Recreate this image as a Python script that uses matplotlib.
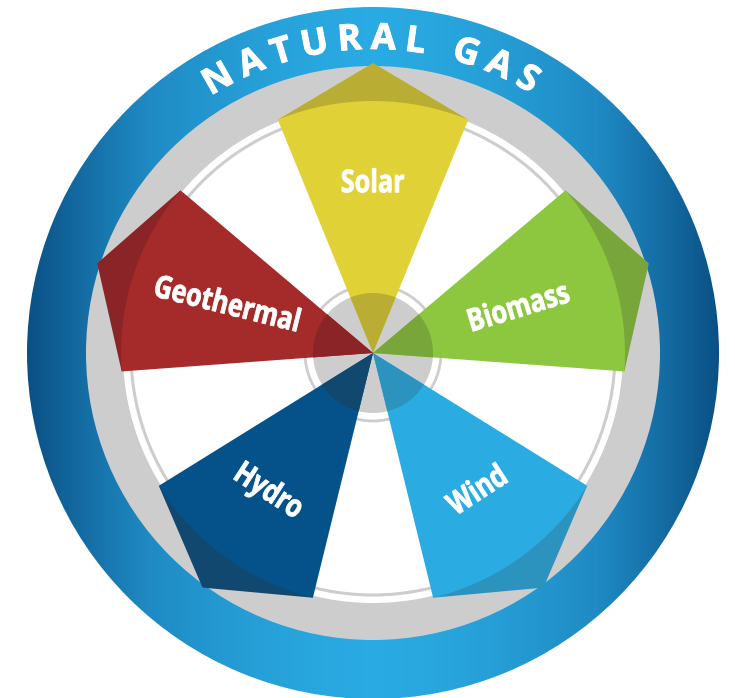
import numpy as np
import matplotlib
matplotlib.use("Agg")
import matplotlib.pyplot as plt
from matplotlib.patches import Wedge, Circle, Polygon, PathPatch
from matplotlib.colors import LinearSegmentedColormap
from matplotlib.textpath import TextPath
from matplotlib.transforms import Affine2D
from matplotlib import font_manager
import matplotlib.patheffects as pe

# chart content
title = "NATURAL GAS"
categories = ["Solar", "Biomass", "Wind", "Hydro", "Geothermal"]
shares = [1, 1, 1, 1, 1]
colors = ["#E0D136", "#8DC63F", "#2AACE2", "#045289", "#A52A2A"]
dark_colors = ["#B9AE33", "#78A63A", "#2C93BF", "#10486F", "#8A2427"]
label_rot = [0, 17, 33, -33, -14]
label_radius = [172, 153, 171, 171, 154]
label_shift = [0, 0, 1, -1, -1]

W, H = 735, 698
cx, cy = 373, 345

fig = plt.figure(figsize=(W / 100, H / 100), dpi=100)
ax = fig.add_axes([0, 0, 1, 1])

# outer blue ring with horizontal gradient
xs = np.linspace(cx - 350, cx + 350, 700)
t = np.clip(np.abs(xs - cx) / 346, 0, 1) ** 1.6
cmap = LinearSegmentedColormap.from_list("ring", ["#2AAAE2", "#1F8AC3", "#0A5085"])
im = ax.imshow(np.tile(t, (10, 1)), cmap=cmap, vmin=0, vmax=1, aspect="auto",
               extent=[cx - 350, cx + 350, cy - 350, cy + 350], zorder=1)
ring = Wedge((cx, cy), 346, 0, 360, width=60, transform=ax.transData)
im.set_clip_path(ring)

ax.add_patch(Circle((cx, cy), 287, fc="#CDCDCD", ec="none", zorder=2))
ax.add_patch(Circle((cx, cy), 250, fc="white", ec="none", zorder=3))
ax.add_patch(Circle((cx, cy), 242, fill=False, ec="#CDCDCD", lw=2.2, zorder=4))
ax.add_patch(Circle((cx, cy), 68, fill=False, ec="#CDCDCD", lw=2.0, zorder=4))
ax.add_patch(Circle((cx, cy), 60, fc="#CDCDCD", ec="none", zorder=4))

# condensed bold labels, built from text outlines
label_fp = font_manager.FontProperties(family="Open Sans", weight="bold")


def condensed_label(x, y, s, rot, size=31.5, squeeze=0.8):
    tp = TextPath((0, 0), s, size=size, prop=label_fp)
    bb = tp.get_extents()
    tr = (Affine2D().translate(-(bb.x0 + bb.x1) / 2, -size * 0.714 / 2)
          .scale(squeeze, 1).rotate_deg(rot).translate(x, y))
    ax.add_patch(PathPatch(tr.transform_path(tp), fc="white", ec="white", lw=0.6, zorder=8))


# wedges
step = 360 / sum(shares)
half = 22.2
r_in, r_tip = 252, 290
for i, name in enumerate(categories):
    c = 90 - step * sum(shares[:i])
    a1, a2 = np.radians(c + half), np.radians(c - half)
    tip = (cx + r_tip * np.cos(np.radians(c)), cy + r_tip * np.sin(np.radians(c)))
    p1 = (cx + r_in * np.cos(a1), cy + r_in * np.sin(a1))
    p2 = (cx + r_in * np.cos(a2), cy + r_in * np.sin(a2))
    ax.add_patch(Polygon([p1, tip, p2], closed=True, fc=dark_colors[i], ec="none", zorder=5))
    ax.add_patch(Wedge((cx, cy), r_in, c - half, c + half, fc=colors[i], ec="none", zorder=6))
    ax.add_patch(Wedge((cx, cy), 60, c - half, c + half, fc=dark_colors[i], ec="none", zorder=7))

    la = np.radians(c + label_shift[i])
    condensed_label(cx + label_radius[i] * np.cos(la), cy + label_radius[i] * np.sin(la),
                    name, label_rot[i])

# curved title along the ring
renderer = fig.canvas.get_renderer()
fp = font_manager.FontProperties(family="Open Sans", weight="bold", size=26)
widths = [renderer.get_text_width_height_descent(ch, fp, ismath=False)[0] for ch in title]
r_text, r_base = 317, 304
span = np.radians(59.0) * r_text
n = len(title)
track = (span - (sum(widths) - widths[0] / 2 - widths[-1] / 2)) / (n - 1)
pos = 0
for i, ch in enumerate(title):
    s = pos + widths[i] / 2 - widths[0] / 2
    ang = 90 + np.degrees((span / 2 - s) / r_text)
    ax.text(cx + r_base * np.cos(np.radians(ang)), cy + r_base * np.sin(np.radians(ang)), ch,
            fontproperties=fp, color="white", ha="center", va="baseline",
            rotation=ang - 90, rotation_mode="anchor", zorder=8,
            path_effects=[pe.withStroke(linewidth=0.7, foreground="white")])
    pos += widths[i] + track

ax.set_xlim(0, W)
ax.set_ylim(0, H)
ax.axis("off")

fig.savefig("out.png", dpi=100)
plt.close(fig)
